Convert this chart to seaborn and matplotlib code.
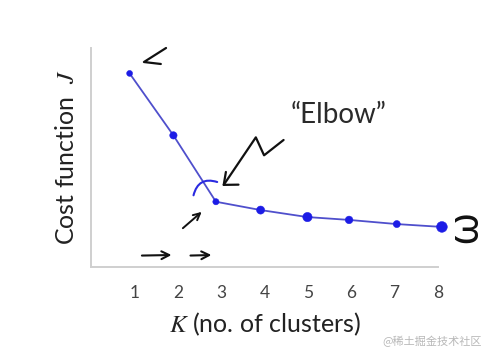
import matplotlib
matplotlib.use("Agg")
import matplotlib.pyplot as plt
import seaborn as sns
import pandas as pd

# ---- data ----
k_values = [1, 2, 3, 4, 5, 6, 7, 8]
k_drawn_pos = [0.89, 1.90, 2.88, 3.91, 4.99, 5.95, 7.05, 8.09]
cost_j = [8.84, 6.01, 2.98, 2.60, 2.28, 2.15, 1.96, 1.83]
tick_positions = [0, 1, 2, 3, 4, 5, 6, 7, 8]
tick_labels = ["", "1", "2", "3", "4", "5", "6", "7", "8"]

# style only
marker_sizes = [18, 28, 20, 34, 45, 30, 26, 60]

sns.set_theme(style="white")
plt.rcParams["font.family"] = ["Lato", "DejaVu Sans"]
plt.rcParams["mathtext.fontset"] = "stix"

df = pd.DataFrame({"k": k_drawn_pos, "cost": cost_j, "ms": marker_sizes})

fig = plt.figure(figsize=(4.94, 3.57), dpi=100)
ax = fig.add_axes([91 / 494, 90 / 357, (438 - 91) / 494, (267 - 48) / 357])

sns.lineplot(data=df, x="k", y="cost", sort=False, color="#4f4fcc",
             linewidth=1.3, ax=ax)
sns.scatterplot(data=df, x="k", y="cost", size="ms", sizes=(18, 60),
                color="#1c1ce6", edgecolor="#1c1ce6", legend=False, ax=ax,
                zorder=3, clip_on=False)

ax.set_xlim(0.03, 8.0)
ax.set_ylim(0, 10)
ax.set_xticks(tick_positions)
ax.set_xticklabels(tick_labels)
ax.set_yticks([])
for s in ["top", "right"]:
    ax.spines[s].set_visible(False)
for s in ["left", "bottom"]:
    ax.spines[s].set_color("#cfcfcf")
    ax.spines[s].set_linewidth(1.4)
ax.tick_params(axis="x", direction="inout", length=10, width=1.0,
               color="#c8c8c8", labelcolor="#444444", labelsize=12.5, pad=8)

ax.set_xlabel(r"$K$ (no. of clusters)", fontsize=18, color="#222222",
              labelpad=7)
ax.set_ylabel(r"Cost function  $J$", fontsize=18, color="#222222",
              labelpad=9)

ink = "#111111"
# hand-drawn annotations
ax.text(5.70, 6.94, u"\u201cElbow\u201d", fontsize=20, color="#2a2a2a",
        ha="center", va="center")
ax.plot([4.44, 3.99, 3.80, 3.06], [5.80, 5.10, 5.92, 3.75], color=ink,
        lw=1.6, solid_capstyle="round", solid_joinstyle="round",
        clip_on=False)
ax.plot([3.11, 3.06, 3.40], [4.34, 3.75, 3.76], color=ink, lw=1.6,
        solid_capstyle="round", solid_joinstyle="round")
ax.annotate("", xy=(2.97, 3.84), xytext=(2.35, 3.15),
            arrowprops=dict(arrowstyle="-", color="#2a2ae0", lw=1.5,
                            connectionstyle="arc3,rad=-0.6"))
ax.annotate("", xy=(2.60, 2.60), xytext=(2.07, 1.69),
            arrowprops=dict(arrowstyle="->", color=ink, lw=1.4,
                            mutation_scale=12))
ax.annotate("", xy=(1.92, 0.55), xytext=(1.11, 0.52),
            arrowprops=dict(arrowstyle="->", color=ink, lw=1.5,
                            mutation_scale=14))
ax.annotate("", xy=(2.84, 0.55), xytext=(2.23, 0.52),
            arrowprops=dict(arrowstyle="->", color=ink, lw=1.5,
                            mutation_scale=14))
ax.plot([1.73, 1.22, 1.61], [10.0, 9.36, 9.27], color=ink, lw=1.6,
        solid_capstyle="round", solid_joinstyle="round", clip_on=False)
ax.text(8.62, 1.87, u"\u03c9", fontsize=30, rotation=90, color=ink,
        ha="center", va="center", clip_on=False,
        family=["Noto Sans", "DejaVu Sans"], fontweight="light")

fig.text(0.976, 0.045, "@稀土掘金技术社区", fontsize=8, color="#b8b8b8",
         ha="right", va="center",
         family=["Noto Sans CJK SC", "DejaVu Sans"])

fig.savefig("out.png", dpi=100, facecolor="white")
